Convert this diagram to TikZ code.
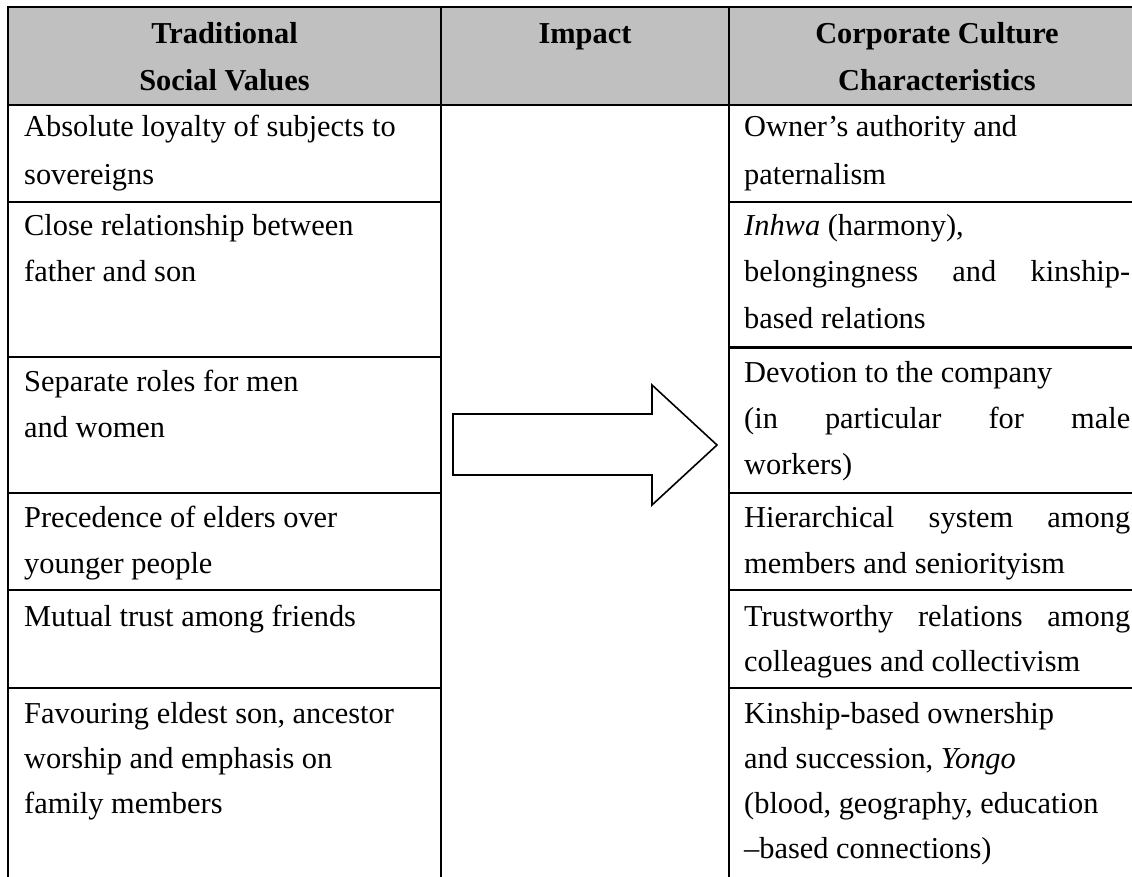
\documentclass[tikz,border=0pt]{standalone}
\usepackage{fontspec}
\setmainfont{Liberation Serif}
\begin{document}
\begin{tikzpicture}[x=1pt,y=-1pt,
  rule/.style={line width=2.2pt},
  txt/.style={anchor=base west,inner sep=0pt},
  headtxt/.style={anchor=base,inner sep=0pt,font=\bfseries},
  bigarrow/.style={draw=black,fill=white,line width=1.6pt,line join=miter}]
\useasboundingbox (0,0) rectangle (1132,877);
\fontsize{30.4}{40}\selectfont
% header band
\fill[fill={rgb,255:red,192;green,192;blue,192}] (8,7) rectangle (1132,105);
% horizontal rules spanning the table
\draw[rule] (7,7) -- (1132,7);
\draw[rule] (8,105) -- (1132,105);
% vertical rules
\draw[rule] (8,6) -- (8,877);
\draw[rule] (441,7) -- (441,877);
\draw[rule] (729,7) -- (729,877);
% row rules, left column
\foreach \yy in {202,357,493,590,688} \draw[rule] (8,\yy) -- (441,\yy);
% row rules, right column
\foreach \yy in {202,347.5,493,590,688} \draw[rule] (729,\yy) -- (1132,\yy);

% headings
\node[headtxt] (h1a) at (224.5,44) {Traditional};
\node[headtxt] (h1b) at (224.5,91) {Social Values};
\node[headtxt] (h2) at (585,44) {Impact};
\node[headtxt] (h3a) at (937,44) {Corporate Culture};
\node[headtxt] (h3b) at (937,91) {Characteristics};

% traditional social values
\node[txt] (l1a) at (24,137) {Absolute loyalty of subjects to};
\node[txt] (l1b) at (24,185) {sovereigns};
\node[txt] (l2a) at (24,236) {Close relationship between};
\node[txt] (l2b) at (24,282) {father and son};
\node[txt] (l3a) at (24,391) {Separate roles for men};
\node[txt] (l3b) at (24,437) {and women};
\node[txt] (l4a) at (24,527) {Precedence of elders over};
\node[txt] (l4b) at (24,573) {younger people};
\node[txt] (l5a) at (24,626) {Mutual trust among friends};
\node[txt] (l6a) at (24,723) {Favouring eldest son, ancestor};
\node[txt] (l6b) at (24,768) {worship and emphasis on};
\node[txt] (l6c) at (24,813) {family members};

% corporate culture characteristics
\node[txt] (r1a) at (744,137) {Owner’s authority and};
\node[txt] (r1b) at (744,185) {paternalism};
\node[txt] (r2a) at (744,236) {\textit{Inhwa} (harmony),};
\node[txt] (r2b) at (744,282) {\makebox[386pt][s]{belongingness and kinship-}};
\node[txt] (r2c) at (744,328) {based relations};
\node[txt] (r3a) at (744,382) {Devotion to the company};
\node[txt] (r3b) at (744,428) {\makebox[386pt][s]{(in particular for male}};
\node[txt] (r3c) at (744,474) {workers)};
\node[txt] (r4a) at (744,527) {\makebox[386pt][s]{Hierarchical system among}};
\node[txt] (r4b) at (744,573) {members and seniorityism};
\node[txt] (r5a) at (744,626) {\makebox[386pt][s]{Trustworthy relations among}};
\node[txt] (r5b) at (744,671) {colleagues and collectivism};
\node[txt] (r6a) at (744,723) {Kinship-based ownership};
\node[txt] (r6b) at (744,768) {and succession, \textit{Yongo}};
\node[txt] (r6c) at (744,813) {(blood, geography, education};
\node[txt] (r6d) at (744,858) {–based connections)};

% block arrow for the impact column
\draw[bigarrow] (453,414) -- (652,414) -- (652,385) -- (717,445) -- (652,505)
  -- (652,475) -- (453,475) -- cycle;
\end{tikzpicture}
\end{document}
